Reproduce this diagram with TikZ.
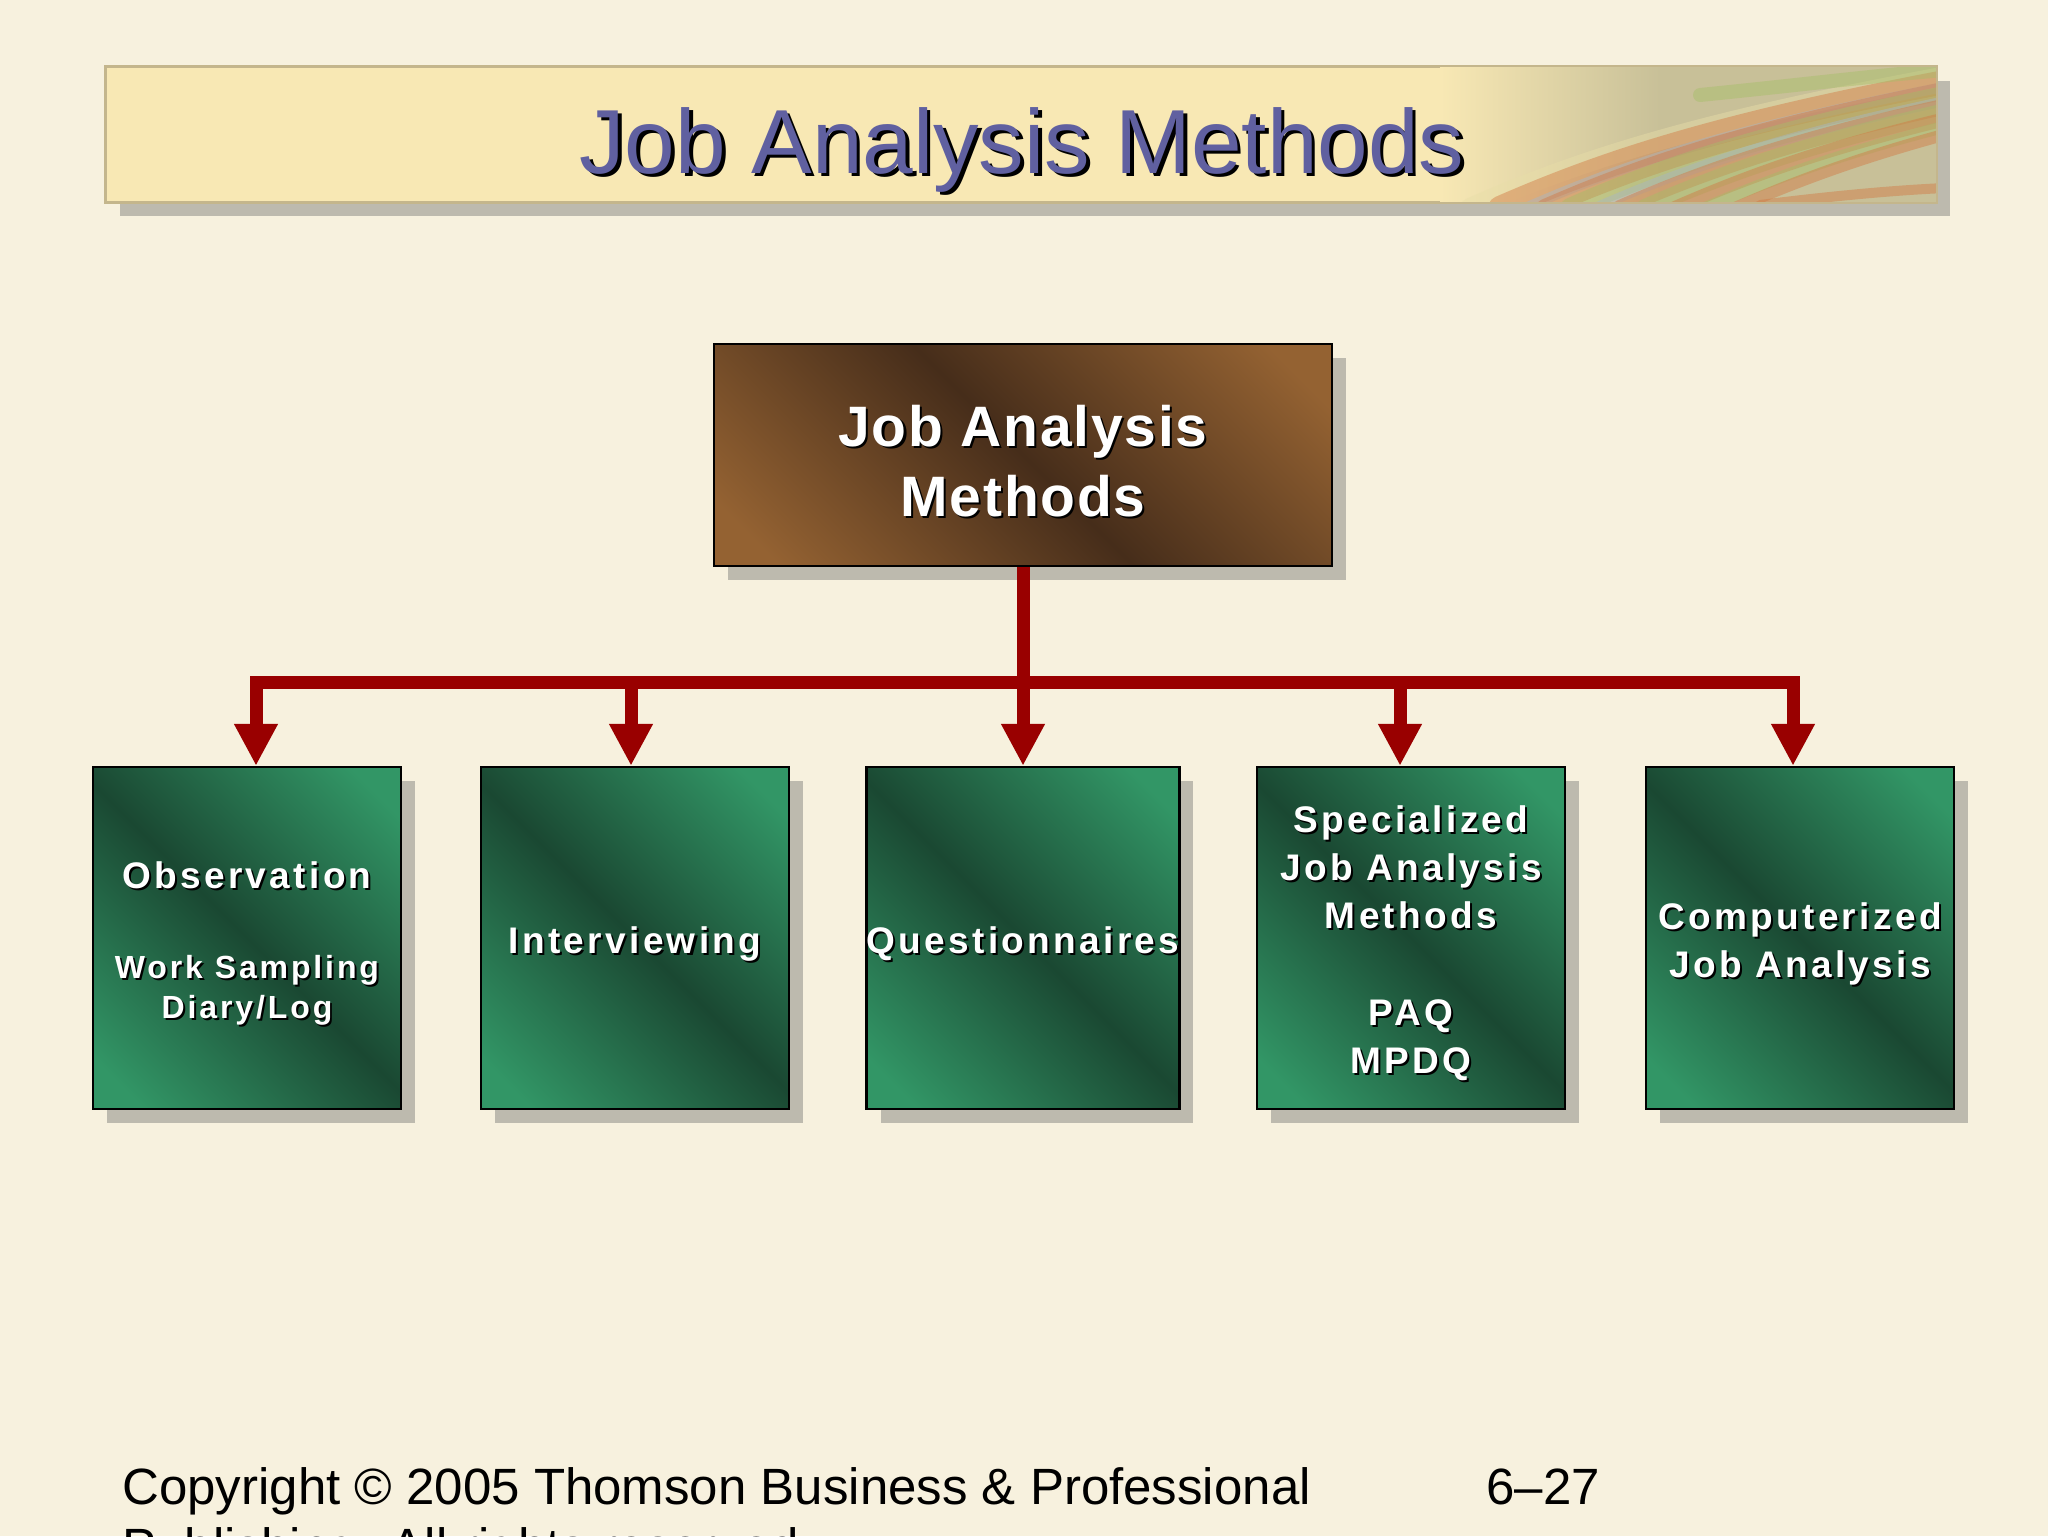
\documentclass[tikz,border=0pt]{standalone}
\usepackage{fontspec}
\setmainfont{Liberation Sans}
\newfontfamily\boxfont[LetterSpace=9]{Liberation Sans}
\newfontfamily\topfont[LetterSpace=3]{Liberation Sans}
\usetikzlibrary{shadows,arrows.meta,calc}
\definecolor{bg}{RGB}{247,241,222}
\definecolor{bannery}{RGB}{248,232,180}
\definecolor{bannerline}{RGB}{196,182,140}
\definecolor{khaki}{RGB}{200,192,152}
\definecolor{shadowc}{RGB}{189,186,174}
\definecolor{titlec}{RGB}{96,96,160}
\definecolor{arrowred}{RGB}{153,0,0}
\definecolor{gl}{RGB}{50,150,102}
\definecolor{gd}{RGB}{26,72,50}
\definecolor{bl}{RGB}{148,98,50}
\definecolor{bd}{RGB}{70,45,26}
\definecolor{orangeS}{RGB}{210,120,66}
\definecolor{greenS}{RGB}{166,190,104}
\definecolor{blueS}{RGB}{168,182,196}
\definecolor{creamS}{RGB}{232,222,168}
\pgfdeclarehorizontalshading{greenband}{100bp}{color(0bp)=(gl); color(20bp)=(gl); color(50bp)=(gd); color(80bp)=(gl); color(100bp)=(gl)}
\pgfdeclarehorizontalshading{brownband}{100bp}{color(0bp)=(bl); color(20bp)=(bl); color(50bp)=(bd); color(80bp)=(bl); color(100bp)=(bl)}
\newcommand\shd[2][1pt]{\leavevmode\rlap{\kern#1\raisebox{-#1}{\color{black}#2}}#2}
\tikzset{
  boxshadow/.style={drop shadow={shadow xshift=7pt, shadow yshift=-7pt, fill=shadowc, opacity=1}},
  gbox/.style={draw=black, line width=1.2pt, shade, shading=greenband, shading angle=45,
    minimum width=154pt, minimum height=171pt, inner sep=0pt, text=white, align=center,
    font=\boxfont\bfseries\fontsize{18.5}{24}\selectfont, boxshadow},
  topbox/.style={draw=black, line width=1.2pt, shade, shading=brownband, shading angle=45,
    minimum width=309pt, minimum height=111pt, inner sep=0pt, text=white, align=center,
    font=\topfont\bfseries\fontsize{28.5}{35}\selectfont, boxshadow},
  banner/.style={fill=bannery, draw=bannerline, line width=0.8pt, minimum width=915pt, minimum height=67.5pt, inner sep=0pt},
  redline/.style={draw=arrowred, line width=6.5pt},
  redarrow/.style={redline, -{Triangle[width=20.5pt,length=21pt]}},
  streak/.style={line width=#1, opacity=0.45, line cap=round},
  footer/.style={anchor=base west, font=\fontsize{25.5}{30}\selectfont, inner sep=0pt},
}
\begin{document}
\begin{tikzpicture}[x=0.5pt,y=-0.5pt]
\useasboundingbox (0,0) rectangle (2048,1536);
\clip (0,0) rectangle (2048,1536);
\fill[bg] (0,0) rectangle (2048,1536);
% banner
\fill[shadowc] (120,81) rectangle (1950,216);
\node[banner] (banner) at (1021,134.5) {};
\begin{scope}
  \clip (banner.north west) rectangle (banner.south east);
  \shade[left color=bannery, right color=khaki] (1440,67) rectangle (1660,202);
  \fill[khaki] (1659,67) rectangle (1936,202);
  \foreach \d/\c/\w in {0/creamS/10pt, 30/orangeS/12pt, 55/blueS/5pt, 75/orangeS/9pt, 100/greenS/10pt, 125/blueS/5pt, 150/orangeS/8pt, 175/greenS/9pt, 205/orangeS/7pt, 235/greenS/6pt, 265/orangeS/6pt}
    \draw[streak=\w, color=\c] (1470+\d,208) .. controls (1580+\d,160) and (1700+\d,120) .. (1980+\d,70);
  \draw[streak=7pt, color=greenS] (1700,95) .. controls (1800,85) and (1880,75) .. (1945,70);
  \draw[streak=5pt, color=orangeS] (1760,205) .. controls (1840,195) and (1900,190) .. (1945,188);
\end{scope}
\draw[bannerline, line width=0.8pt] (banner.north west) rectangle (banner.south east);
\node[anchor=base, text=titlec, font=\fontsize{45.5}{50}\selectfont] (title) at (1022,173) {\shd[1.8pt]{Job Analysis Methods}};
% top box
\node[topbox] (top) at (1023,455) {\rule{0pt}{28pt}\shd{Job Analysis}\\\shd{Methods}};
% method boxes
\node[gbox] (b1) at (247,938) {\rule{0pt}{20pt}\shd{Observation}\\[21pt]{\fontsize{16}{20}\selectfont\shd{Work Sampling}}\\[-4pt]{\fontsize{16}{20}\selectfont\shd{Diary/Log}}};
\node[gbox] (b2) at (635,938) {\rule{0pt}{20pt}\shd{Interviewing}};
\node[gbox] (b3) at (1023,938) {\rule{0pt}{20pt}\shd{Questionnaires}};
\node[gbox] (b4) at (1411,938) {\rule{0pt}{20pt}\shd{Specialized}\\\shd{Job Analysis}\\\shd{Methods}\\[24.5pt]\shd{PAQ}\\\shd{MPDQ}};
\node[gbox] (b5) at (1800,938) {\rule{0pt}{20pt}\shd{Computerized}\\\shd{Job Analysis}};
% connectors
\coordinate (hub) at (1023,682);
\draw[redline] (top.south) -- (hub);
\draw[redarrow] (hub) -| ($(b1.north)+(9,0)$);
\draw[redarrow] (hub) -| ($(b2.north)+(-4,0)$);
\draw[redarrow] (hub) -- (b3.north);
\draw[redarrow] (hub) -| ($(b4.north)+(-11,0)$);
\draw[redarrow] (hub) -| ($(b5.north)+(-7,0)$);
% footer
\node[footer] (copy1) at (122,1504) {Copyright \textcopyright{} 2005 Thomson Business \& Professional};
\node[footer] (copy2) at (122,1564) {Publishing. All rights reserved.};
\node[footer] (page) at (1486,1504) {6--27};
\end{tikzpicture}
\end{document}
